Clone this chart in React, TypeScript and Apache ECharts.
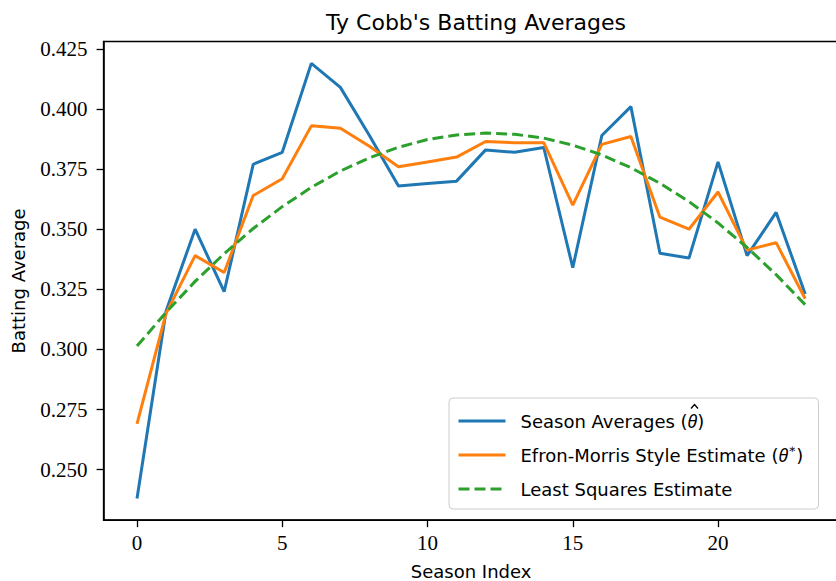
import React, { useEffect, useRef } from "react";
import * as echarts from "echarts";

const seasonIndex = [0, 1, 2, 3, 4, 5, 6, 7, 8, 9, 10, 11, 12, 13, 14, 15, 16, 17, 18, 19, 20, 21, 22, 23];
const seasonAverages = [0.238, 0.316, 0.35, 0.324, 0.377, 0.382, 0.419, 0.409, 0.389, 0.368, 0.369, 0.37, 0.383, 0.382, 0.384, 0.334, 0.389, 0.401, 0.34, 0.338, 0.378, 0.339, 0.357, 0.323];
const efronMorris = [0.269, 0.315, 0.339, 0.332, 0.364, 0.371, 0.393, 0.392, 0.3845, 0.376, 0.378, 0.38, 0.3865, 0.386, 0.386, 0.36, 0.3853, 0.3886, 0.355, 0.35, 0.3655, 0.3413, 0.3444, 0.3211];
const leastSquares = [0.3014, 0.3154, 0.3283, 0.3398, 0.3503, 0.3594, 0.3674, 0.3742, 0.3797, 0.3841, 0.3873, 0.3892, 0.39, 0.3895, 0.3879, 0.385, 0.3809, 0.3756, 0.3691, 0.3615, 0.3526, 0.3424, 0.3311, 0.3186];
const xTicks = [0, 5, 10, 15, 20];
const yTicks = [0.25, 0.275, 0.3, 0.325, 0.35, 0.375, 0.4, 0.425];

const NAME_A = "Season Averages";
const NAME_B = "Efron-Morris Style Estimate";
const NAME_C = "Least Squares Estimate";

export default function App() {
  const ref = useRef<HTMLDivElement>(null);
  useEffect(() => {
    if (!ref.current) return;
    const chart = echarts.init(ref.current, null, { renderer: "svg" });
    const all = [...seasonAverages, ...efronMorris, ...leastSquares];
    const yLo = Math.min(...all);
    const yHi = Math.max(...all);
    const yPad = (yHi - yLo) * 0.05;
    const xLo = Math.min(...seasonIndex);
    const xHi = Math.max(...seasonIndex);
    const xPad = (xHi - xLo) * 0.05;
    const pair = (arr: number[]) => seasonIndex.map((x, i) => [x, arr[i]]);
    const sans = "DejaVu Sans";
    const serif = "Liberation Serif";
    chart.setOption({
      animation: false,
      backgroundColor: "#ffffff",
      title: {
        text: "Ty Cobb's Batting Averages",
        left: 471,
        top: 6,
        textAlign: "center",
        textStyle: { fontFamily: sans, fontSize: 22, fontWeight: "normal", color: "#000" },
      },
      grid: {
        left: 103.6,
        right: -2.6,
        top: 41.6,
        bottom: 60.8,
        containLabel: false,
        outerBoundsMode: "none",
        show: true,
        borderColor: "#000",
        borderWidth: 1.5,
        backgroundColor: "transparent",
      },
      xAxis: {
        type: "value",
        min: xLo - xPad,
        max: xHi + xPad,
        splitLine: { show: false },
        axisLine: { show: true, onZero: false, lineStyle: { color: "#000", width: 1.5 } },
        axisTick: { show: true, inside: false, length: 7, customValues: xTicks, lineStyle: { color: "#000", width: 1.3 } },
        axisLabel: { customValues: xTicks, fontFamily: serif, fontSize: 21, color: "#000", margin: 12 },
        name: "Season Index",
        nameLocation: "middle",
        nameGap: 42,
        nameTextStyle: { fontFamily: sans, fontSize: 18, color: "#000" },
      },
      yAxis: {
        type: "value",
        min: yLo - yPad,
        max: yHi + yPad,
        splitLine: { show: false },
        axisLine: { show: true, onZero: false, lineStyle: { color: "#000", width: 1.5 } },
        axisTick: { show: true, inside: false, length: 7, customValues: yTicks, lineStyle: { color: "#000", width: 1.3 } },
        axisLabel: {
          customValues: yTicks,
          fontFamily: serif,
          fontSize: 21,
          color: "#000",
          margin: 16,
          formatter: (v: number) => v.toFixed(3),
        },
        name: "Batting Average",
        nameLocation: "middle",
        nameGap: 76,
        nameTextStyle: { fontFamily: sans, fontSize: 18, color: "#000" },
      },
      legend: {
        orient: "vertical",
        left: 449,
        top: 398,
        padding: [11, 8, 8, 8],
        itemWidth: 47,
        itemHeight: 14,
        itemGap: 10,
        backgroundColor: "rgba(255,255,255,0.8)",
        borderColor: "#cccccc",
        borderWidth: 1,
        borderRadius: 4,
        itemStyle: { color: "transparent", borderColor: "transparent", borderWidth: 0, opacity: 0 },
        lineStyle: { width: 3 },
        data: [NAME_A, NAME_B, NAME_C],
        formatter: (name: string) => {
          if (name === NAME_A) return "Season Averages ({it|θ})";
          if (name === NAME_B) return "Efron-Morris Style Estimate ({it|θ}{sup|∗})";
          return name;
        },
        textStyle: {
          fontFamily: sans,
          fontSize: 18,
          color: "#000",
          lineHeight: 24,
          padding: [0, 0, 0, 10],
          width: 290,
          rich: {
            it: { fontFamily: "Noto Sans", fontStyle: "italic", fontSize: 18, color: "#000", lineHeight: 24 },
            sup: { fontFamily: "DejaVu Serif", fontSize: 12, color: "#000", verticalAlign: "top", lineHeight: 14 },
          },
        },
      },
      graphic: [
        {
          type: "polyline",
          z: 200,
          silent: true,
          shape: { points: [[691, 408.5], [694.5, 404.5], [698, 408.5]] },
          style: { stroke: "#000", lineWidth: 1.3, fill: null },
        },
      ],
      series: [
        {
          name: NAME_A,
          type: "line",
          data: pair(seasonAverages),
          symbol: "none",
          lineStyle: { color: "#1f77b4", width: 3 },
          itemStyle: { color: "#1f77b4" },
          z: 3,
        },
        {
          name: NAME_B,
          type: "line",
          data: pair(efronMorris),
          symbol: "none",
          lineStyle: { color: "#ff7f0e", width: 3 },
          itemStyle: { color: "#ff7f0e" },
          z: 4,
        },
        {
          name: NAME_C,
          type: "line",
          data: pair(leastSquares),
          symbol: "none",
          lineStyle: { color: "#2ca02c", width: 3, type: [11, 5] },
          itemStyle: { color: "#2ca02c" },
          z: 5,
        },
      ],
    });
    return () => chart.dispose();
  }, []);
  return (
    <div
      ref={ref}
      style={{ position: "fixed", left: 0, top: 0, width: 836, height: 581, background: "#fff" }}
    />
  );
}
